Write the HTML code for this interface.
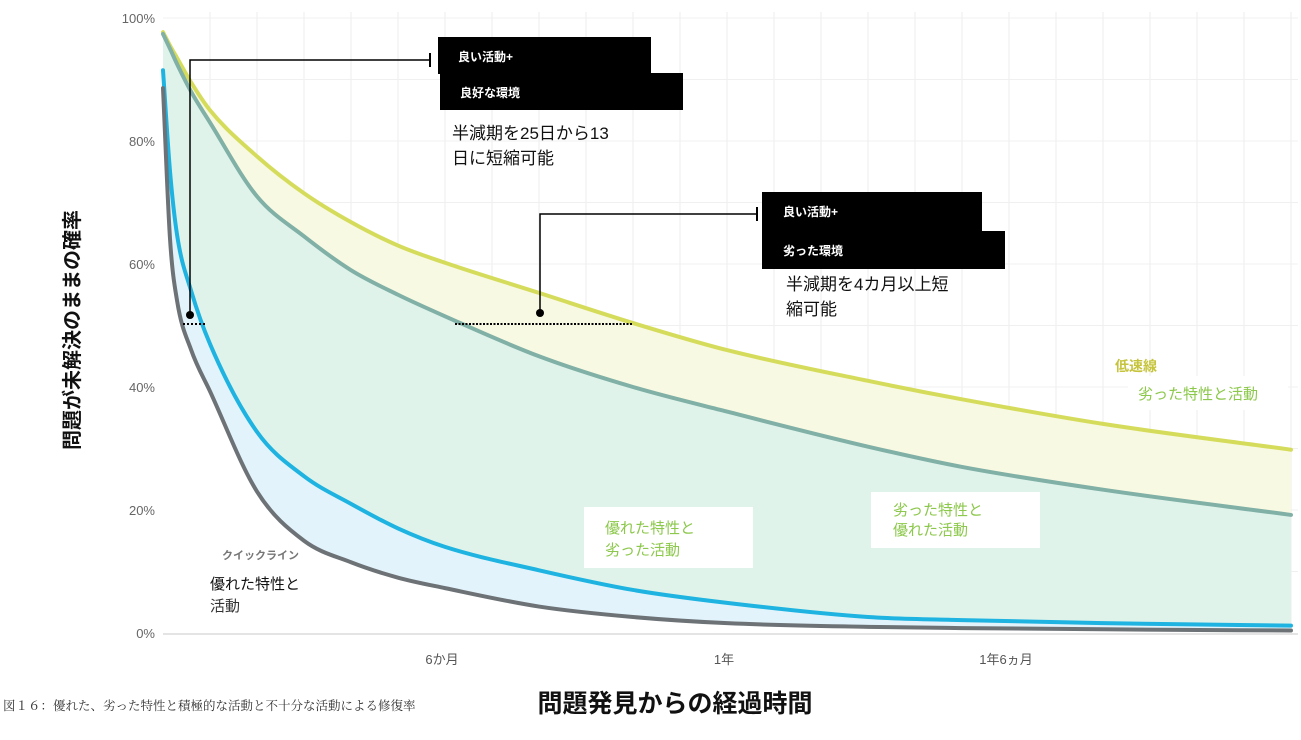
<!DOCTYPE html>
<html><head><meta charset="utf-8">
<style>
body{margin:0;background:#fff;}
svg text{font-family:"Liberation Sans","Noto Sans CJK JP",sans-serif;}
</style></head>
<body>
<svg id="chart" width="1301" height="735" viewBox="0 0 1301 735" xmlns="http://www.w3.org/2000/svg">
<g id="grid"></g>
<g id="fills"></g>
<line x1="163" x2="1298" y1="634" y2="634" stroke="#e4e4e4" stroke-width="2"/>
<g id="lines"></g>
<g id="yticks"></g>
<g id="xticks"></g>

<g>
<polyline points="190,315 190,60 430,60" fill="none" stroke="#000" stroke-width="1.5"/>
<line x1="430" y1="53" x2="430" y2="67" stroke="#000" stroke-width="2"/>
<circle cx="190" cy="315" r="4" fill="#000"/>
<line x1="183" y1="324" x2="206" y2="324" stroke="#000" stroke-width="2" stroke-dasharray="2,2"/>
<rect x="438" y="37" width="213" height="37" fill="#000"/>
<rect x="440" y="73" width="243" height="37" fill="#000"/>
<text x="458" y="61" fill="#fff" font-size="12" font-weight="bold">良い活動+</text>
<text x="460" y="97" fill="#fff" font-size="12" font-weight="bold">良好な環境</text>
<text x="452" y="139" fill="#111" font-size="17">半減期を25日から13</text>
<text x="452" y="164" fill="#111" font-size="17">日に短縮可能</text>
</g>
<g>
<polyline points="540,313 540,214 757,214" fill="none" stroke="#000" stroke-width="1.5"/>
<line x1="757" y1="207" x2="757" y2="221" stroke="#000" stroke-width="2"/>
<circle cx="540" cy="313" r="4" fill="#000"/>
<line x1="455" y1="324" x2="633" y2="324" stroke="#000" stroke-width="2" stroke-dasharray="2,1.5"/>
<rect x="762" y="192" width="220" height="40" fill="#000"/>
<rect x="762" y="231" width="243" height="38" fill="#000"/>
<text x="783" y="216" fill="#fff" font-size="12" font-weight="bold">良い活動+</text>
<text x="783" y="255" fill="#fff" font-size="12" font-weight="bold">劣った環境</text>
<text x="786" y="290" fill="#111" font-size="17">半減期を4カ月以上短</text>
<text x="786" y="315" fill="#111" font-size="17">縮可能</text>
</g>

<g>
<text x="1115" y="371" fill="#c6c43c" font-size="14" font-weight="bold">低速線</text>
<rect x="1128" y="376" width="160" height="34" fill="#fff"/>
<text x="1138" y="399" fill="#8cc84b" font-size="15">劣った特性と活動</text>
</g>
<g>
<rect x="871" y="492" width="169" height="56" fill="#fff"/>
<text x="893" y="515" fill="#8cc84b" font-size="15">劣った特性と</text>
<text x="893" y="535" fill="#8cc84b" font-size="15">優れた活動</text>
</g>
<g>
<rect x="584" y="507" width="169" height="61" fill="#fff"/>
<text x="605" y="533" fill="#8cc84b" font-size="15">優れた特性と</text>
<text x="605" y="555" fill="#8cc84b" font-size="15">劣った活動</text>
</g>
<g>
<text x="222" y="559" fill="#777" font-size="11" font-weight="bold">クイックライン</text>
<rect x="200" y="566" width="145" height="55" fill="#fff"/>
<text x="210" y="589" fill="#111" font-size="15">優れた特性と</text>
<text x="210" y="611" fill="#333" font-size="15">活動</text>
</g>

<text transform="translate(79,330) rotate(-90)" text-anchor="middle" font-size="20" font-weight="bold" fill="#111">問題が未解決のままの確率</text>
<text x="675" y="712" text-anchor="middle" font-size="25" font-weight="bold" fill="#111">問題発見からの経過時間</text>
<text x="3" y="710" font-size="12.5" fill="#333" style="font-family:'Liberation Serif','Noto Serif CJK SC',serif">図１６：優れた、劣った特性と積極的な活動と不十分な活動による修復率</text>
</svg>
<script>
const months = [0,0.15,0.3,0.6,1,2,3,4,5,6,8,10,12,15,17,20,24];
const slowLine = [97.7,95.5,93.5,89.5,85,77.5,71.5,66.8,63,60.2,55.3,50.4,46,41,38,34,29.8];
const poorTraitsGoodAct = [97.4,95,92.5,88,83,71,64.5,59,55,51.5,45,40,36,30.3,27,23.3,19.2];
const goodTraitsPoorAct = [91.5,75,64.7,55.6,47,32.7,25.5,21,17,14,10.2,7,4.9,2.6,2.1,1.6,1.2];
const quickLine = [88.6,64,54,46,39.3,23,15,11.5,9,7.3,4.3,2.6,1.6,1,0.8,0.6,0.4];
const yTicks = [0,20,40,60,80,100];
const xTickMonths = [6,12,18];
const xTickLabels = ["6か月","1年","1年6ヵ月"];

const NS="http://www.w3.org/2000/svg";
const X0=163, PXM=47, Y0=633, PXP=6.15;
const xs=m=>X0+m*PXM, ys=p=>Y0-p*PXP;
function mk(tag,attrs,parent){const e=document.createElementNS(NS,tag);for(const k in attrs)e.setAttribute(k,attrs[k]);parent.appendChild(e);return e;}
function pts(vals){return months.map((m,i)=>[xs(m),ys(vals[i])]);}
function mono(p){
 const n=p.length,d=[],m=[];
 for(let i=0;i<n-1;i++)d.push((p[i+1][1]-p[i][1])/(p[i+1][0]-p[i][0]));
 m[0]=d[0];m[n-1]=d[n-2];
 for(let i=1;i<n-1;i++){m[i]=(d[i-1]*d[i]<=0)?0:(d[i-1]+d[i])/2;}
 for(let i=0;i<n-1;i++){if(d[i]===0){m[i]=m[i+1]=0;continue;}
  const a=m[i]/d[i],b=m[i+1]/d[i],s=a*a+b*b;if(s>9){const t=3/Math.sqrt(s);m[i]=t*a*d[i];m[i+1]=t*b*d[i];}}
 let s='M'+p[0][0]+','+p[0][1];
 for(let i=0;i<n-1;i++){const h=(p[i+1][0]-p[i][0])/3;
  s+=` C${p[i][0]+h},${p[i][1]+m[i]*h} ${p[i+1][0]-h},${p[i+1][1]-m[i+1]*h} ${p[i+1][0]},${p[i+1][1]}`;}
 return s;}
const grid=document.getElementById('grid');
for(let m=1;m*PXM+X0<1300;m++){const l=mk('line',{x1:xs(m),x2:xs(m),y1:12,y2:Y0,stroke:'#eeeeee','stroke-width':1},grid);

}
for(let p=10;p<=100;p+=10){const l=mk('line',{x1:X0,x2:1298,y1:ys(p),y2:ys(p),stroke:'#f0f0f0','stroke-width':1},grid);

}

const fills=document.getElementById('fills');
const XE=xs(months[months.length-1]);
function area(vals,color,name){
 const e=mk('path',{d:mono(pts(vals))+` L${XE},${Y0} L${X0},${Y0} Z`,fill:color},fills);
 
 }
area(slowLine,'#f8f9e2','band-slow');
area(poorTraitsGoodAct,'#dff3ea','band-middle');
area(goodTraitsPoorAct,'#e2f3fb','band-fast');
area(quickLine,'#ffffff','below-quick-line');

const lines=document.getElementById('lines');
function line(vals,color,name){const e=mk('path',{d:mono(pts(vals)),fill:'none',stroke:color,'stroke-width':4,'stroke-linecap':'round'},lines);
 
 }
line(slowLine,'#d5dc5c','line-slow');
line(poorTraitsGoodAct,'#80b0a6','line-poor-traits-good-activity');
line(goodTraitsPoorAct,'#1eb3e0','line-good-traits-poor-activity');
line(quickLine,'#6d7276','line-quick');

const yt=document.getElementById('yticks');
yTicks.forEach(v=>{const t=mk('text',{x:155,y:ys(v)+5,'text-anchor':'end','font-size':13,fill:'#666'},yt);t.textContent=v+'%';

});
const xt=document.getElementById('xticks');
xTickMonths.forEach((m,i)=>{const t=mk('text',{x:xs(m)-3,y:664,'text-anchor':'middle','font-size':13,fill:'#555'},xt);t.textContent=xTickLabels[i];

});
</script>
</body></html>
